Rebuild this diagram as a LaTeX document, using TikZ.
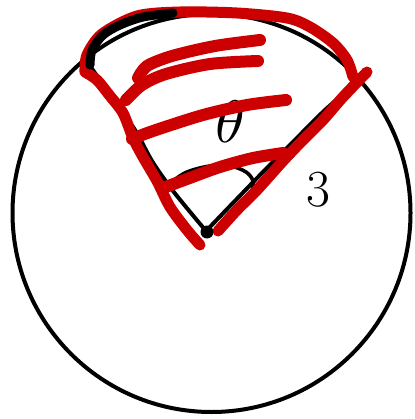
\documentclass[tikz,border=0pt]{standalone}
\begin{document}
\begin{tikzpicture}[x=1pt,y=-1pt,
  ink/.style={black,line width=4pt,line cap=round,line join=round},
  redpen/.style={draw=sketchred,line width=11pt,line cap=round,line join=round},
  hatch/.style={draw=sketchred,line width=12pt,line cap=round,line join=round}]
\definecolor{sketchred}{RGB}{204,0,0}
\useasboundingbox (0,0) rectangle (414,419);
\fill[white] (0,0) rectangle (414,419);
% circle
\draw[ink,line width=4pt] (211.5,213) circle (199);
% radii (black, under red)
\draw[ink] plot[smooth,tension=0.5] coordinates {(206,231) (186,207) (170,187) (152,161) (135,130) (112,97) (90,66)};
\draw[ink] plot[smooth,tension=0.5] coordinates {(208,229) (232,204) (262,173) (290,145) (325,110) (362,78)};
% angle arc
\draw[ink,line width=3.6pt] plot[smooth,tension=0.6] coordinates {(173,181) (187,172) (210,166) (230,166) (246,172) (253,181) (252,190)};
% labels
\node[inner sep=0pt,scale=6] (theta) at (230,122) {$\theta$};
\node[inner sep=0pt] (three) at (318,190) {\fontsize{52}{52}\selectfont 3};
% red outline
\draw[redpen] plot[smooth,tension=0.5] coordinates {(200,245) (187,230) (170,207) (157,181) (143,157) (133,138) (123,113) (110,96) (97,80) (85,72)};
\draw[redpen] plot[smooth,tension=0.5] coordinates {(85,72) (87,55) (102,34) (137,16) (180,12) (237,13) (287,18) (310,27) (333,43) (347,60) (353,77)};
\draw[redpen] plot[smooth,tension=0.5] coordinates {(367,72) (343,97) (323,120) (303,140) (283,161) (257,190) (237,210) (218,231)};
% hatching
\draw[hatch] plot[smooth,tension=0.5] coordinates {(260,40) (215,46) (172,56) (147,66) (138,78)};
\draw[hatch] plot[smooth,tension=0.5] coordinates {(126,100) (142,85) (166,74) (210,64) (258,61)};
\draw[hatch] plot[smooth,tension=0.5] coordinates {(132,139) (153,131) (203,115) (247,105) (286,100)};
\draw[hatch] plot[smooth,tension=0.5] coordinates {(163,188) (187,179) (220,167) (253,158) (283,153)};
% black top arc
\draw[black,line width=9pt,line cap=round,line join=round] plot[smooth,tension=0.5] coordinates {(90,65) (92,50) (103,35) (120,25) (143,17) (173,13)};
% centre dot
\fill[black] (207,232) circle (6.5);
\end{tikzpicture}
\end{document}
